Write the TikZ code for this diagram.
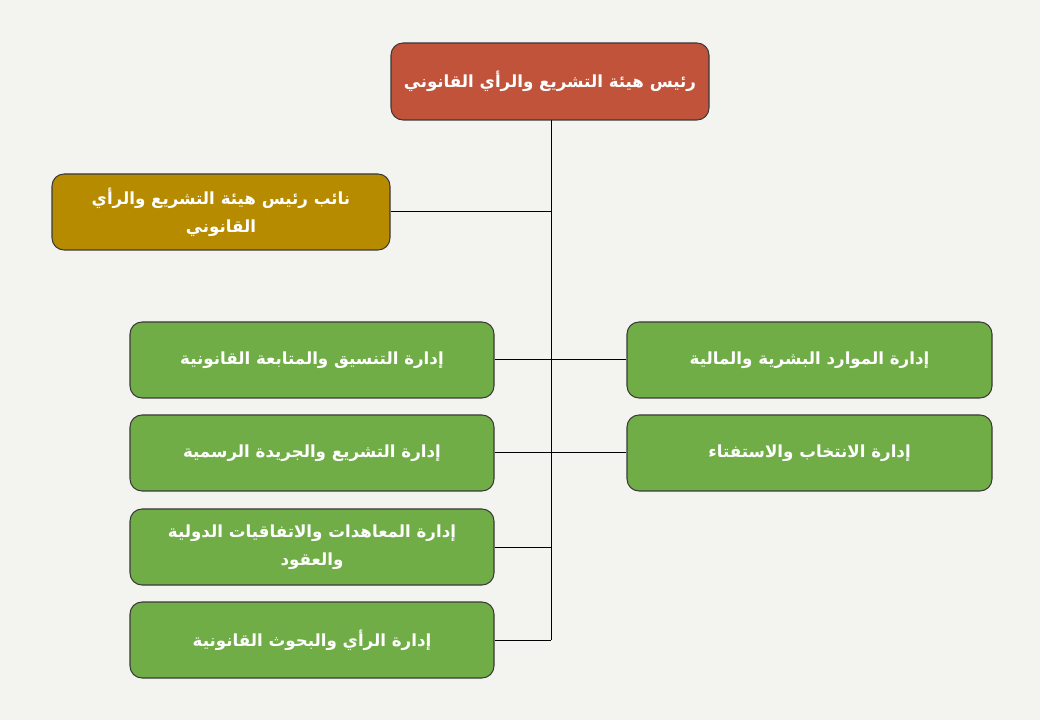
\documentclass[tikz,border=0pt]{standalone}
\usepackage{fontspec}
\newfontfamily\arabicfont[Script=Arabic]{DejaVu Sans}
\TeXXeTstate=1
\definecolor{bgc}{HTML}{F3F3EF}
\definecolor{topc}{HTML}{C0533A}
\definecolor{depc}{HTML}{B68B00}
\definecolor{grc}{HTML}{70AD47}
\definecolor{edgec}{HTML}{3A3A3A}
\begin{document}
\begin{tikzpicture}[x=0.75pt,y=-0.75pt,
  box/.style={draw=edgec,line width=0.8pt,rounded corners=9pt,rectangle,inner sep=0pt,
    text=white,align=center,font=\arabicfont\bfseries\fontsize{12.5pt}{21pt}\selectfont},
  topbox/.style={box,fill=topc,minimum width=238.5pt,minimum height=57.75pt},
  depbox/.style={box,fill=depc,minimum width=253.5pt,minimum height=57pt},
  lbox/.style={box,fill=grc,minimum width=273pt,minimum height=57pt},
  rbox/.style={box,fill=grc,minimum width=273.75pt,minimum height=57pt},
  conn/.style={draw=black,line width=0.75pt}]
\fill[bgc] (0,0) rectangle (1040,720);
\useasboundingbox (0,0) rectangle (1040,720);
\node[topbox] (top) at (550,81.5) {\beginR رئيس هيئة التشريع والرأي القانوني\endR};
\node[depbox] (dep) at (221,212) {\beginR نائب رئيس هيئة التشريع والرأي\endR\\\beginR القانوني\endR};
\node[lbox] (l1) at (312,360) {\beginR إدارة التنسيق والمتابعة القانونية\endR};
\node[lbox] (l2) at (312,453) {\beginR إدارة التشريع والجريدة الرسمية\endR};
\node[lbox] (l3) at (312,547) {\beginR إدارة المعاهدات والاتفاقيات الدولية\endR\\\beginR والعقود\endR};
\node[lbox] (l4) at (312,640) {\beginR إدارة الرأي والبحوث القانونية\endR};
\node[rbox] (r1) at (809.5,360) {\beginR إدارة الموارد البشرية والمالية\endR};
\node[rbox] (r2) at (809.5,453) {\beginR إدارة الانتخاب والاستفتاء\endR};
\coordinate (tt) at (551,120);
\coordinate (tb) at (551,640);
\draw[conn] (tt) -- (tb);
\draw[conn] (dep.east) -- (dep.east -| tt);
\draw[conn] (l1.east) -- (r1.west);
\draw[conn] (l2.east) -- (r2.west);
\draw[conn] (l3.east) -- (l3.east -| tt);
\draw[conn] (l4.east) -- (tb);
\end{tikzpicture}
\end{document}
